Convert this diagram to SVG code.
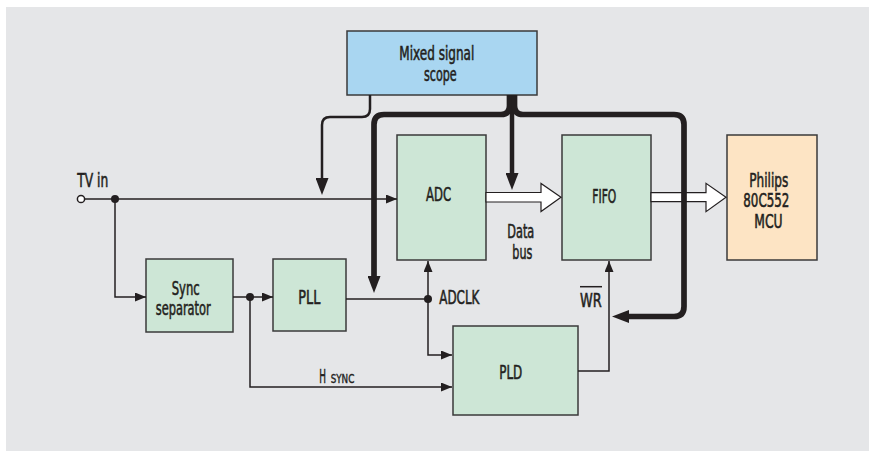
<svg xmlns="http://www.w3.org/2000/svg" width="869" height="451" viewBox="0 0 869 451">
<style>
.bg{fill:#e5e6e8}
.box{stroke:#3a3a3a;stroke-width:1.5}
.g{fill:#cde6d6}
.b{fill:#a9d6f1}
.o{fill:#fde4c4}
text{font-family:"Liberation Sans Narrow","DejaVu Sans Condensed","Liberation Sans",sans-serif;font-size:19px;fill:#231f20;stroke:#231f20;stroke-width:0.55}
.sm{font-size:13px;stroke-width:0.4}
.w{fill:none;stroke:#231f20;stroke-width:1.5}
.s{fill:none;stroke:#231f20;stroke-width:2.5}
.t{fill:none;stroke:#231f20;stroke-width:5.7}
.c{fill:none;stroke:#231f20;stroke-width:4.5}
.bus{fill:#ffffff;stroke:#231f20;stroke-width:1.2;stroke-linejoin:miter}
.dot{fill:#231f20}
</style>
<defs>
<marker id="arr" markerUnits="userSpaceOnUse" markerWidth="11" markerHeight="9" refX="11" refY="4.5" orient="auto">
<path d="M0,0 L11,4.5 L0,9 z" fill="#231f20"/>
</marker>
<marker id="big" markerUnits="userSpaceOnUse" markerWidth="17" markerHeight="13" refX="1" refY="6.5" orient="auto">
<path d="M0,0 L17,6.5 L0,13 z" fill="#231f20"/>
</marker>
</defs>
<rect class="bg" x="6" y="7" width="863" height="444"/>

<g id="scope">
<rect class="box b" x="347" y="31" width="190" height="64"/>
<text x="399.3" y="60" textLength="75" lengthAdjust="spacingAndGlyphs">Mixed signal</text>
<text x="424" y="81" textLength="32.7" lengthAdjust="spacingAndGlyphs">scope</text>
</g>
<g id="sync">
<rect class="box g" x="146" y="259" width="87" height="73"/>
<text x="171.7" y="294.5" textLength="28" lengthAdjust="spacingAndGlyphs">Sync</text>
<text x="155.7" y="315" textLength="55" lengthAdjust="spacingAndGlyphs">separator</text>
</g>
<g id="pll">
<rect class="box g" x="273" y="259" width="73" height="72"/>
<text x="298.3" y="304" textLength="22" lengthAdjust="spacingAndGlyphs">PLL</text>
</g>
<g id="adc">
<rect class="box g" x="397" y="135" width="89" height="125"/>
<text x="426" y="201" textLength="25" lengthAdjust="spacingAndGlyphs">ADC</text>
</g>
<g id="fifo">
<rect class="box g" x="562" y="135" width="89" height="125"/>
<text x="592.3" y="202.7" textLength="24" lengthAdjust="spacingAndGlyphs">FIFO</text>
</g>
<g id="pld">
<rect class="box g" x="453" y="326" width="125" height="89"/>
<text x="499.3" y="379" textLength="23" lengthAdjust="spacingAndGlyphs">PLD</text>
</g>
<g id="mcu">
<rect class="box o" x="727" y="135" width="90" height="125"/>
<text x="749.3" y="186.7" textLength="39" lengthAdjust="spacingAndGlyphs">Philips</text>
<text x="743.3" y="207.3" textLength="46" lengthAdjust="spacingAndGlyphs">80C552</text>
<text x="754.3" y="228.3" textLength="28.3" lengthAdjust="spacingAndGlyphs">MCU</text>
</g>

<g id="connectors">
<path class="w" d="M84.5,199 H397" marker-end="url(#arr)"/>
<path class="w" d="M115,199 V297 H146" marker-end="url(#arr)"/>
<path class="w" d="M233,297 H273" marker-end="url(#arr)"/>
<path class="w" d="M250,297 V387 H452" marker-end="url(#arr)"/>
<path class="w" d="M346,299 H428"/>
<path class="w" d="M428,299 V261" marker-end="url(#arr)"/>
<path class="w" d="M428,299 V355 H452" marker-end="url(#arr)"/>
<path class="w" d="M578,371 H609 V261" marker-end="url(#arr)"/>
<circle cx="81" cy="199" r="3.6" fill="#ffffff" stroke="#231f20" stroke-width="1.5"/>
<circle class="dot" cx="115" cy="199" r="4"/>
<circle class="dot" cx="250" cy="297" r="4"/>
<circle class="dot" cx="428" cy="299" r="4"/>
<polygon class="bus" points="486,192.5 541,192.5 541,183.5 561,197.3 541,211.5 541,202 486,202"/>
<polygon class="bus" points="651,192.7 706,192.7 706,183.3 726,197.3 706,211.7 706,201.7 651,201.7"/>
<path class="s" d="M370,95 V109 Q370,117 362,117 H330 Q322,117 322,125 V179" marker-end="url(#big)"/>
<path class="c" d="M512,95 V174" marker-end="url(#big)"/>
<path class="t" d="M509.5,95 V106 Q509.5,114.5 501,114.5 H384 Q374,114.5 374,124.5 V277" marker-end="url(#big)"/>
<path class="t" d="M514.5,95 V106 Q514.5,114.5 523,114.5 H674 Q684,114.5 684,124.5 V306.5 Q684,316.5 674,316.5 H628" marker-end="url(#big)"/>
<text x="77.3" y="187" textLength="31" lengthAdjust="spacingAndGlyphs">TV in</text>
<text x="507.3" y="238.3" textLength="27" lengthAdjust="spacingAndGlyphs">Data</text>
<text x="512.3" y="259.3" textLength="20" lengthAdjust="spacingAndGlyphs">bus</text>
<text x="439.3" y="303.5" textLength="40" lengthAdjust="spacingAndGlyphs">ADCLK</text>
<text x="580" y="306.7" textLength="21.7" lengthAdjust="spacingAndGlyphs">WR</text>
<path class="w" d="M580,286.7 H602"/>
<text x="319.3" y="382.7" textLength="6.7" lengthAdjust="spacingAndGlyphs">H</text>
<text class="sm" x="330.7" y="382.7" textLength="23.6" lengthAdjust="spacingAndGlyphs">SYNC</text>
</g>
</svg>
